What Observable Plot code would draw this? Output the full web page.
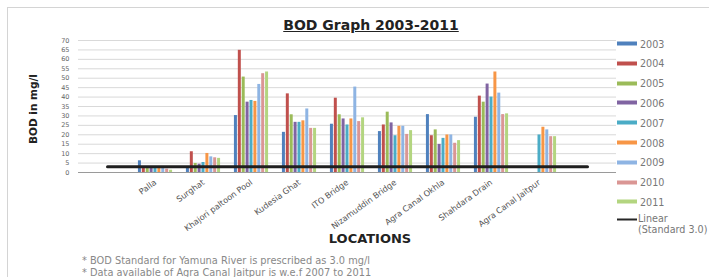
<!DOCTYPE html>
<html><head><meta charset="utf-8">
<script src="https://cdn.jsdelivr.net/npm/d3@7"></script>
<script src="https://cdn.jsdelivr.net/npm/@observablehq/plot@0.6"></script>
<style>
html,body{margin:0;padding:0;background:#fff;overflow:hidden;}
#wrap{position:relative;width:709px;height:277px;font-family:"DejaVu Sans",sans-serif;overflow:hidden;background:#fff}
#frame{position:absolute;left:7px;top:7px;width:740px;height:320px;border:1px solid #d4d4d4;box-sizing:border-box}
#plot{position:absolute;left:0;top:0}
.abs{position:absolute;white-space:nowrap}
#title{left:371px;top:18px;transform:translateX(-50%);font-weight:bold;font-size:14px;line-height:14px;text-decoration:underline;color:#222}
#ylab{left:33px;top:109px;transform:translate(-50%,-50%) rotate(-90deg);font-weight:bold;font-size:10.5px;color:#222}
#xlab{left:370px;top:238px;transform:translate(-50%,-50%);font-weight:bold;font-size:13px;color:#222}
.note{left:82px;font-size:9.8px;color:#888;transform:translateY(-50%)}
.leg{left:617px;font-size:9.6px;color:#777;transform:translateY(-50%);display:flex;align-items:center}
.sw{display:inline-block;width:20px;height:4px;margin-right:3px}
</style></head>
<body><div id="wrap"><div id="frame"></div></div>
<script>
// ---- data ----
const locations = ["Palla","Surghat","Khajori paltoon Pool","Kudesia Ghat","ITO Bridge","Nizamuddin Bridge","Agra Canal Okhla","Shahdara Drain","Agra Canal Jaitpur"];
const years = ["2003","2004","2005","2006","2007","2008","2009","2010","2011"];
const v2003 = [6.2, 2.7, 30.2, 21.3, 25.6, 21.7, 30.7, 29.3, null];
const v2004 = [2.6, 11.0, 64.8, 41.7, 39.4, 25.2, 19.5, 40.5, null];
const v2005 = [2.4, 4.8, 50.6, 30.6, 30.6, 32.0, 22.6, 37.3, null];
const v2006 = [2.4, 4.4, 37.3, 26.6, 28.4, 26.3, 14.9, 46.9, null];
const v2007 = [2.5, 5.3, 38.2, 26.6, 25.2, 19.5, 18.1, 40.0, 19.9];
const v2008 = [2.4, 10.1, 37.7, 27.4, 28.4, 24.5, 19.9, 53.3, 24.0];
const v2009 = [2.5, 8.3, 46.7, 33.7, 45.3, 24.5, 19.9, 42.1, 22.6];
const v2010 = [1.8, 7.8, 52.4, 23.4, 27.0, 20.2, 15.5, 30.7, 19.0];
const v2011 = [1.2, 7.5, 53.3, 23.4, 29.0, 22.2, 16.9, 31.1, 19.0];
const standard = 3.0;
const yTicks = [0,5,10,15,20,25,30,35,40,45,50,55,60,65,70];
const colors = ["#4F81BD","#C0504D","#9BBB59","#8064A2","#4BACC6","#F79646","#8EB4E3","#DA9694","#B3D580"];
const notes = ["* BOD Standard for Yamuna River is prescribed as 3.0 mg/l",
               "* Data available of Agra Canal Jaitpur is w.e.f 2007 to 2011"];

const series = [v2003,v2004,v2005,v2006,v2007,v2008,v2009,v2010,v2011];
const PADL = "_padL", PADR = "_padR";
const xDomain = [PADL, ...locations, PADR];

// ---- layout ----
const W = 709, H = 277, ML = 78, MR = 93, MT = 40, MB = 105;
const bw = (W - ML - MR) / xDomain.length;
const sub = d3.scaleBand(years, [0, bw]).paddingInner(0).paddingOuter(1.78);

const barMarks = years.map((yr, i) => {
  const rows = locations.map((loc, j) => ({loc, year: yr, v: series[i][j]})).filter(d => d.v != null);
  const l = sub(yr);
  return Plot.barY(rows, {
    x: "loc", y: "v", fill: colors[i],
    insetLeft: l, insetRight: bw - l - sub.bandwidth()
  });
});

const stdRows = xDomain.map(loc => ({loc, v: standard}));

const svg = Plot.plot({
  width: W, height: H,
  marginLeft: ML, marginRight: MR, marginTop: MT, marginBottom: MB,
  style: {fontFamily: "DejaVu Sans, sans-serif", fontSize: "8.2px", color: "#555", background: "transparent"},
  x: {domain: xDomain, padding: 0, label: null, tickSize: 0, tickPadding: 9, tickRotate: -36,
      tickFormat: d => (d === PADL || d === PADR) ? "" : d},
  y: {domain: [0, 70], ticks: yTicks, label: null, tickSize: 0, tickPadding: 9},
  marks: [
    Plot.ruleY(yTicks, {stroke: "#d9d9d9", strokeWidth: 1}),
    ...barMarks,
    Plot.ruleY([0], {stroke: "#9a9a9a", strokeWidth: 1.2}),
    Plot.lineY(stdRows, {x: "loc", y: "v", stroke: "#1f1f1f", strokeWidth: 3})
  ]
});
svg.id = "plot";
svg.querySelectorAll('[aria-label^="y-axis"] text').forEach(t => { t.style.fontSize = "6.5px"; t.setAttribute("fill", "#666"); });
svg.querySelectorAll('[aria-label^="x-axis"] text').forEach(t => { t.setAttribute("fill", "#555"); });

const wrap = document.getElementById("wrap");
wrap.appendChild(svg);

function add(cls, id, text, style) {
  const d = document.createElement("div");
  d.className = "abs " + cls; if (id) d.id = id;
  d.textContent = text; if (style) Object.assign(d.style, style);
  wrap.appendChild(d); return d;
}
add("", "title", "BOD Graph 2003-2011");
add("", "ylab", "BOD in mg/l");
add("", "xlab", "LOCATIONS");
notes.forEach((n, i) => add("note", null, n, {top: (260 + 12 * i) + "px"}));

years.forEach((yr, i) => {
  const d = add("leg", null, "", {top: (43.5 + 19.8 * i) + "px"});
  const s = document.createElement("span"); s.className = "sw"; s.style.background = colors[i];
  d.appendChild(s); d.appendChild(document.createTextNode(yr));
});
const lin = add("leg", null, "", {top: "224px", alignItems: "flex-start"});
const ls = document.createElement("span"); ls.className = "sw";
Object.assign(ls.style, {background: "#262626", height: "2px", marginTop: "5px", marginRight: "1px"});
lin.appendChild(ls);
const lt = document.createElement("span"); lt.innerHTML = "Linear<br>(Standard 3.0)"; lt.style.lineHeight = "10.5px";
lin.appendChild(lt);
</script>
</body></html>
